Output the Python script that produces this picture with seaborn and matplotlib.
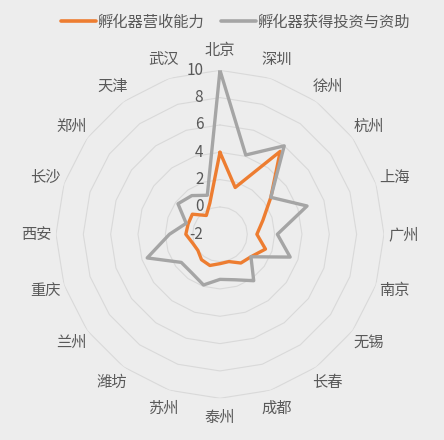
import numpy as np
import pandas as pd
import seaborn as sns
import matplotlib.pyplot as plt

cities = ['北京', '深圳', '徐州', '杭州', '上海', '广州', '南京', '无锡', '长春', '成都',
          '泰州', '苏州', '潍坊', '兰州', '重庆', '西安', '长沙', '郑州', '天津', '武汉']
revenue = [4.0, 1.6, 5.5, 2.6, 1.3, 0.7, 1.5, 0.8, 0.6, 0.1,
           0.15, 0.4, 0.3, 0.0, 0.1, 0.5, 0.45, 0.5, -0.3, 0.4]
funding = [10.0, 4.1, 6.0, 2.6, 4.7, 2.2, 3.4, 0.8, 2.2, 1.5,
           1.3, 1.9, 1.5, 1.5, 3.6, 1.7, 0.6, 1.8, 1.5, 1.0]
series_names = ['孵化器营收能力', '孵化器获得投资与资助']
r_ticks = [-2, 0, 2, 4, 6, 8, 10]

bg = '#EDEDED'
txt = '#595959'
colors = ['#ED7D31', '#A5A5A5']

sns.set_theme(style='white')
plt.rcParams['font.family'] = ['Noto Sans CJK SC', 'DejaVu Sans']

n = len(cities)
theta = np.linspace(0, 2 * np.pi, n, endpoint=False)
theta_closed = np.append(theta, 2 * np.pi)

rows = []
for name, vals in zip(series_names, [revenue, funding]):
    closed = list(vals) + [vals[0]]
    for t, v in zip(theta_closed, closed):
        rows.append({'series': name, 'angle': t, 'value': v})
df = pd.DataFrame(rows)

fig = plt.figure(figsize=(4.44, 4.40), dpi=100, facecolor=bg)
ax = fig.add_axes([0.1261, 0.0948, 0.7387, 0.7455], projection='polar')
ax.set_facecolor(bg)
ax.set_theta_zero_location('N')
ax.set_theta_direction(-1)
ax.set_ylim(-2, 10)
ax.grid(False)
ax.spines['polar'].set_visible(False)

# polygon gridlines like Excel
for lvl in r_ticks[1:]:
    ax.plot(theta_closed, [lvl] * (n + 1), color='#D9D9D9', lw=0.8, zorder=1)

sns.lineplot(data=df, x='angle', y='value', hue='series', palette=colors,
             sort=False, estimator=None, linewidth=2.4, ax=ax, zorder=3)

leg = ax.get_legend()
handles = leg.legend_handles
labels = [t.get_text() for t in leg.get_texts()]
leg.remove()
for h in handles:
    h.set_linewidth(2.6)
fig.legend(handles, labels, loc='center', bbox_to_anchor=(0.53, 0.95), ncol=2,
           frameon=False, fontsize=11, labelcolor=txt, handlelength=2.3,
           handletextpad=0.1, columnspacing=1.1)

ax.set_xticks(theta)
ax.set_xticklabels(cities, color=txt, fontsize=11)
ax.tick_params(axis='x', pad=7, length=0)
ax.set_yticks([])
ax.set_xlabel('')
ax.set_ylabel('')

for v in r_ticks:
    ax.annotate(str(v), xy=(0, v), xytext=(-12, 0), textcoords='offset points',
                ha='right', va='center', color=txt, fontsize=11)

fig.savefig('out.png', dpi=100, facecolor=bg)
